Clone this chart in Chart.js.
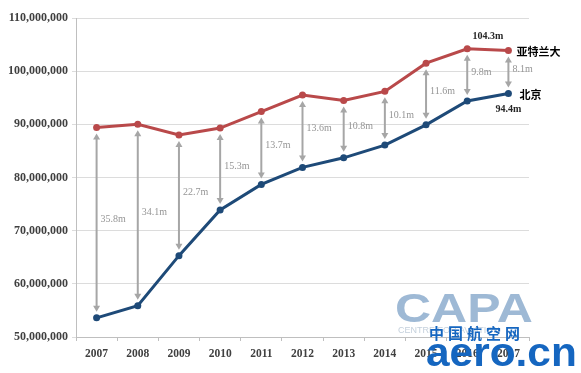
<!DOCTYPE html>
<html>
<head>
<meta charset="utf-8">
<script src="https://cdn.jsdelivr.net/npm/chart.js@4/dist/chart.umd.min.js"></script>
<style>
  html, body { margin: 0; padding: 0; background: #ffffff; }
  #wrap { width: 581px; height: 373px; position: relative; }
</style>
</head>
<body>
<div id="wrap"><canvas id="c" width="581" height="373"></canvas></div>
<script>
// ---- data ----
const years = ["2007","2008","2009","2010","2011","2012","2013","2014","2015","2016","2017"];
const atlanta = [89.4e6, 90.0e6, 88.0e6, 89.3e6, 92.4e6, 95.5e6, 94.5e6, 96.2e6, 101.5e6, 104.2e6, 103.9e6];
const beijing = [53.6e6, 55.9e6, 65.3e6, 73.9e6, 78.7e6, 81.9e6, 83.7e6, 86.1e6, 89.9e6, 94.4e6, 95.8e6];
const gapLabels = ["35.8m","34.1m","22.7m","15.3m","13.7m","13.6m","10.8m","10.1m","11.6m","9.8m","8.1m"];
const seriesNames = ["亚特兰大", "北京"];
const peakLabels = ["104.3m", "94.4m"];
const yTicks = { min: 50000000, max: 110000000, step: 10000000 };

const RED = "#B9494A";
const BLUE = "#1E4A78";
const SERIF = "'Liberation Serif', 'DejaVu Serif', serif";

const annotate = {
  id: "annotate",
  afterDatasetsDraw(chart) {
    const { ctx, scales: { x, y } } = chart;
    ctx.save();
    // gap arrows
    years.forEach((yr, i) => {
      const px = x.getPixelForValue(i);
      const top = y.getPixelForValue(atlanta[i]) + 6;
      const bot = y.getPixelForValue(beijing[i]) - 6;
      ctx.strokeStyle = "#A6A6A6";
      ctx.fillStyle = "#A6A6A6";
      ctx.lineWidth = 2;
      ctx.beginPath();
      ctx.moveTo(px, top + 4);
      ctx.lineTo(px, bot - 4);
      ctx.stroke();
      ctx.beginPath();
      ctx.moveTo(px, top);
      ctx.lineTo(px - 3.5, top + 6);
      ctx.lineTo(px + 3.5, top + 6);
      ctx.closePath();
      ctx.fill();
      ctx.beginPath();
      ctx.moveTo(px, bot);
      ctx.lineTo(px - 3.5, bot - 6);
      ctx.lineTo(px + 3.5, bot - 6);
      ctx.closePath();
      ctx.fill();
      ctx.fillStyle = "#959595";
      ctx.font = "10px " + SERIF;
      ctx.textAlign = "left";
      ctx.textBaseline = "middle";
      ctx.fillText(gapLabels[i], px + 4, (top + bot) / 2 - 3);
    });
    // end labels
    const last = years.length - 1;
    const xl = x.getPixelForValue(last);
    const xp = x.getPixelForValue(last - 1);
    ctx.fillStyle = "#262626";
    ctx.font = "bold 10px " + SERIF;
    ctx.textAlign = "center";
    ctx.textBaseline = "middle";
    ctx.fillText(peakLabels[0], (xl + xp) / 2, y.getPixelForValue(atlanta[last - 1]) - 12);
    ctx.fillText(peakLabels[1], xl, y.getPixelForValue(beijing[last]) + 16);
    ctx.fillStyle = "#000000";
    ctx.font = "bold 11px 'Noto Sans CJK SC', sans-serif";
    ctx.textAlign = "left";
    ctx.fillText(seriesNames[0], xl + 8, y.getPixelForValue(atlanta[last]) + 1);
    ctx.fillText(seriesNames[1], xl + 11, y.getPixelForValue(beijing[last]) + 1);
    ctx.restore();
  },
  afterDraw(chart) {
    // watermark overlays (text)
    const { ctx } = chart;
    ctx.save();
    ctx.textAlign = "left";
    ctx.textBaseline = "alphabetic";
    // CAPA
    ctx.save();
    ctx.translate(395, 322);
    ctx.scale(1.25, 1);
    ctx.globalAlpha = 0.8;
    ctx.fillStyle = "#86A8CB";
    ctx.font = "bold 40px 'Liberation Sans', Arial, sans-serif";
    ctx.fillText("CAPA", 0, 0);
    ctx.restore();
    ctx.font = "9px 'Liberation Sans', sans-serif";
    ctx.fillStyle = "#C4D0DC";
    ctx.fillText("CENTRE FOR AVIATION", 398, 333);
    // aero.cn
    ctx.fillStyle = "#1566C0";
    ctx.font = "bold 15px 'Noto Sans CJK SC', sans-serif";
    const cn = "中国航空网";
    for (let k = 0; k < cn.length; k++) ctx.fillText(cn[k], 429 + k * 19, 339);
    ctx.save();
    ctx.translate(426, 366);
    ctx.scale(1.06, 1);
    ctx.font = "bold 40px 'Liberation Sans', Arial, sans-serif";
    ctx.fillText("aero.cn", 0, 0);
    ctx.restore();
    ctx.restore();
  }
};

new Chart(document.getElementById("c"), {
  type: "line",
  data: {
    labels: years,
    datasets: [
      { label: seriesNames[0], data: atlanta, borderColor: RED, backgroundColor: RED,
        borderWidth: 3, pointRadius: 3.5, pointBackgroundColor: RED, pointBorderWidth: 0, tension: 0 },
      { label: seriesNames[1], data: beijing, borderColor: BLUE, backgroundColor: BLUE,
        borderWidth: 3, pointRadius: 3.5, pointBackgroundColor: BLUE, pointBorderWidth: 0, tension: 0 }
    ]
  },
  options: {
    responsive: false,
    animation: false,
    devicePixelRatio: 1,
    layout: { padding: { left: 0, right: 52, top: 18, bottom: 0 } },
    plugins: { legend: { display: false }, tooltip: { enabled: false } },
    scales: {
      x: {
        offset: true,
        grid: { offset: true, drawOnChartArea: false, color: "#BFBFBF", tickLength: 4 },
        border: { color: "#BFBFBF", width: 1 },
        ticks: { color: "#404040", font: { family: SERIF, size: 11.5, weight: "bold" }, padding: 6, maxRotation: 0 },
        afterFit(s) { s.height = 36; }
      },
      y: {
        min: yTicks.min, max: yTicks.max,
        grid: { color: "#DCDCDC", tickLength: 4, lineWidth: 1 },
        border: { color: "#BFBFBF", width: 1 },
        ticks: {
          stepSize: yTicks.step,
          color: "#404040",
          font: { family: SERIF, size: 12, weight: "bold" },
          padding: 4,
          callback: v => v.toLocaleString("en-US")
        },
        afterFit(s) { s.width = 76; }
      }
    }
  },
  plugins: [annotate]
});
</script>
</body>
</html>
